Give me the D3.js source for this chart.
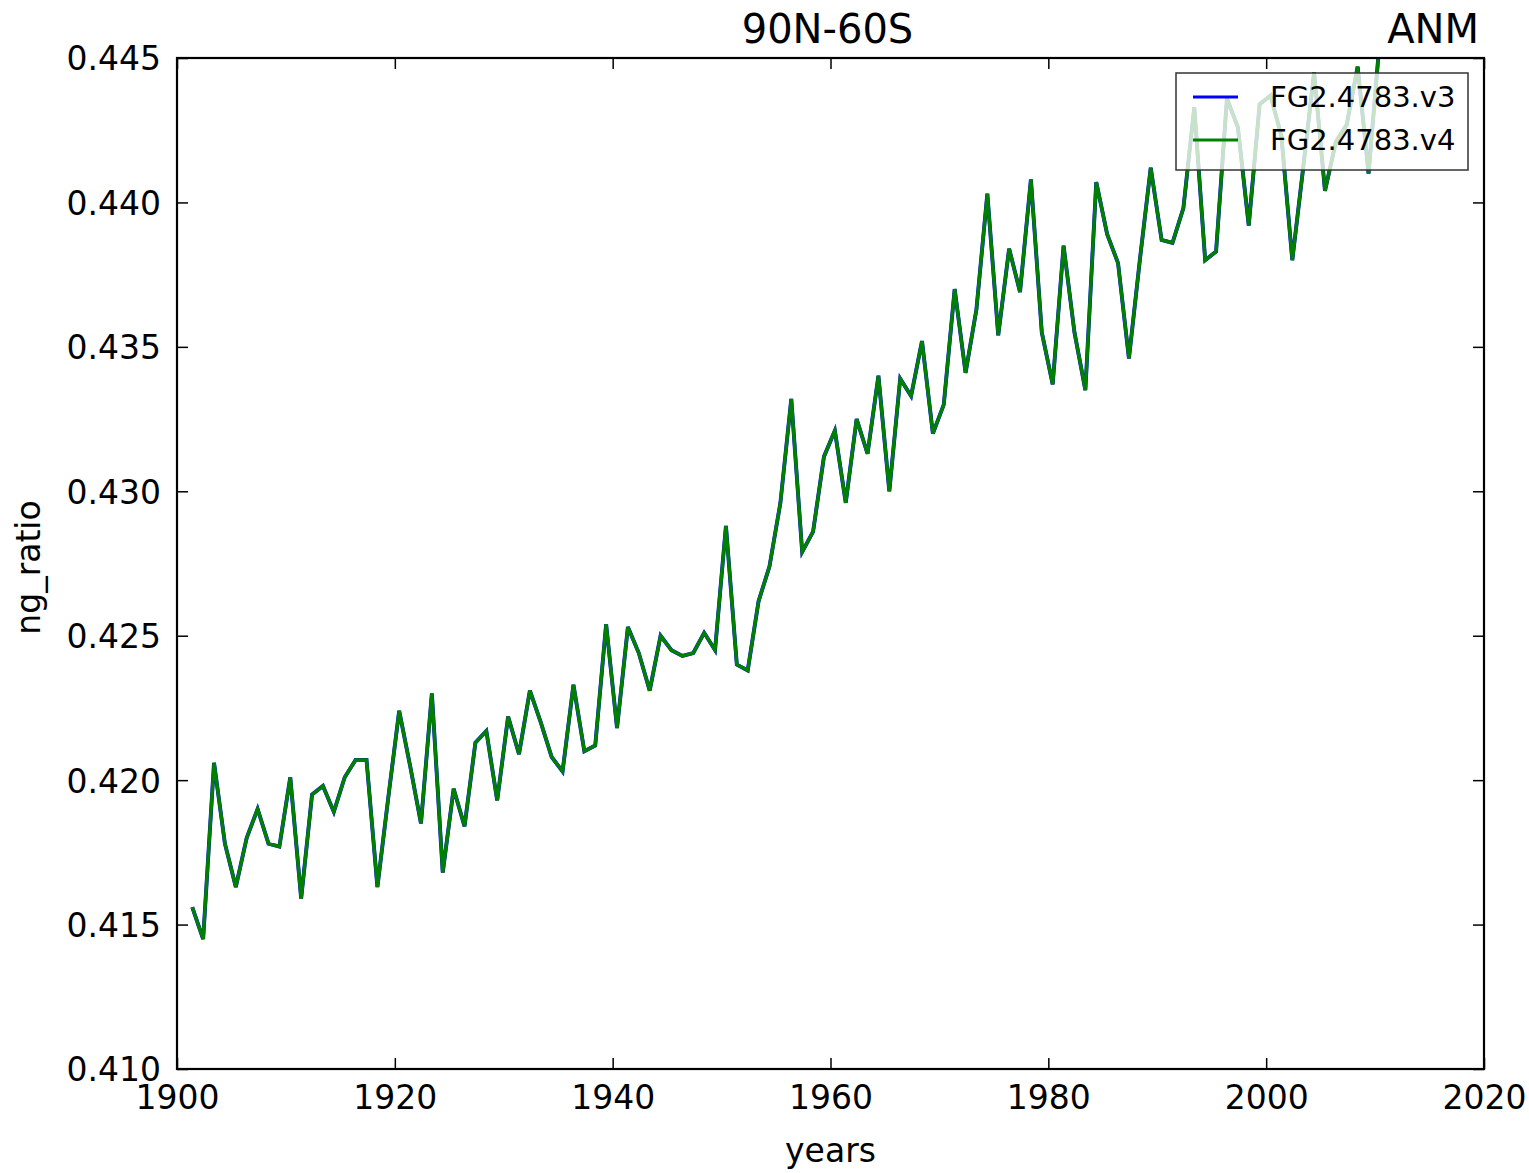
<!DOCTYPE html>
<html lang="en">
<head>
    <meta charset="UTF-8">
    <title>90N-60S ng_ratio</title>
    <script src="https://d3js.org/d3.v7.min.js"></script>
    <style>
        body {
            margin: 0;
            background: #fff;
            font-family: "DejaVu Sans", sans-serif;
        }
        text {
            fill: #000;
        }
    </style>
</head>
<body>
    <div id="chart"></div>

    <script>
        // annual values, 1901..2010
        const years = d3.range(1901, 2011);
        const ngRatio = [
            0.4156, 0.4145, 0.4206, 0.4178, 0.4163, 0.4180, 0.4190, 0.4178, 0.4177, 0.4201,
            0.4159, 0.4195, 0.4198, 0.4189, 0.4201, 0.4207, 0.4207, 0.4163, 0.4194, 0.4224,
            0.4205, 0.4185, 0.4230, 0.4168, 0.4197, 0.4184, 0.4213, 0.4217, 0.4193, 0.4222,
            0.4209, 0.4231, 0.4220, 0.4208, 0.4203, 0.4233, 0.4210, 0.4212, 0.4254, 0.4218,
            0.4253, 0.4244, 0.4231, 0.4250, 0.4245, 0.4243, 0.4244, 0.4251, 0.4245, 0.4288,
            0.4240, 0.4238, 0.4262, 0.4274, 0.4296, 0.4332, 0.4279, 0.4286, 0.4312, 0.4321,
            0.4296, 0.4325, 0.4313, 0.4340, 0.4300, 0.4339, 0.4333, 0.4352, 0.4320, 0.4330,
            0.4370, 0.4341, 0.4363, 0.4403, 0.4354, 0.4384, 0.4369, 0.4408, 0.4355, 0.4337,
            0.4385, 0.4355, 0.4335, 0.4407, 0.4389, 0.4379, 0.4346, 0.4380, 0.4412, 0.4387,
            0.4386, 0.4398, 0.4433, 0.4380, 0.4383, 0.4436, 0.4426, 0.4392, 0.4434, 0.4437,
            0.4423, 0.4380, 0.4412, 0.4445, 0.4404, 0.4421, 0.4427, 0.4447, 0.4410, 0.4455
        ];
        // v3 and v4 are identical here; v3 is drawn first and hidden under v4
        const series = [
            { name: "FG2.4783.v3", color: "#0000ff", width: 3.9, values: ngRatio },
            { name: "FG2.4783.v4", color: "#008000", width: 3.4, values: ngRatio }
        ];
        const xTicks = d3.range(1900, 2021, 20);
        const yTicks = d3.range(0.410, 0.4451, 0.005);
        const timeShift = 0.4; // samples sit a bit past the start of each year

        const W = 1529, H = 1173;
        const margin = { top: 58, right: 45, bottom: 104, left: 177 };
        const iw = W - margin.left - margin.right;
        const ih = H - margin.top - margin.bottom;

        const svg = d3.select("#chart")
            .append("svg")
            .attr("width", W)
            .attr("height", H);

        const x = d3.scaleLinear().domain([1900, 2020]).range([0, iw]);
        const y = d3.scaleLinear().domain([0.410, 0.445]).range([ih, 0]);

        const g = svg.append("g")
            .attr("transform", `translate(${margin.left},${margin.top})`);

        g.append("clipPath").attr("id", "clip")
            .append("rect").attr("width", iw).attr("height", ih);

        const line = d3.line()
            .x((d, i) => x(years[i] + timeShift))
            .y(d => y(d));

        const lines = g.append("g").attr("clip-path", "url(#clip)");
        series.forEach(s => {
            lines.append("path")
                .datum(s.values)
                .attr("d", line)
                .attr("fill", "none")
                .attr("stroke", s.color)
                .attr("stroke-width", s.width)
                .attr("stroke-linejoin", "miter");
        });

        // axes: inward ticks on all four sides, labels left and bottom
        const tickLen = 11;
        const fmt = d3.format(".3f");

        const axBottom = g.append("g")
            .attr("transform", `translate(0,${ih})`)
            .call(d3.axisBottom(x).tickValues(xTicks).tickFormat(d3.format("d"))
                .tickSizeInner(-tickLen).tickSizeOuter(0).tickPadding(tickLen + 6));
        const axTop = g.append("g")
            .call(d3.axisTop(x).tickValues(xTicks).tickFormat("")
                .tickSizeInner(-tickLen).tickSizeOuter(0));
        const axLeft = g.append("g")
            .call(d3.axisLeft(y).tickValues(yTicks).tickFormat(fmt)
                .tickSizeInner(-tickLen).tickSizeOuter(0).tickPadding(tickLen + 5));
        const axRight = g.append("g")
            .attr("transform", `translate(${iw},0)`)
            .call(d3.axisRight(y).tickValues(yTicks).tickFormat("")
                .tickSizeInner(-tickLen).tickSizeOuter(0));

        [axBottom, axTop, axLeft, axRight].forEach(a => {
            a.select(".domain").remove();
            a.selectAll(".tick line").attr("stroke", "#000").attr("stroke-width", 1.5);
            a.selectAll("text")
                .attr("font-family", "DejaVu Sans")
                .attr("font-size", 33)
                .attr("fill", "#111");
        });
        axBottom.selectAll("text").attr("dy", "0.71em");
        axLeft.selectAll("text").attr("dy", "0.36em");

        g.append("rect")
            .attr("width", iw)
            .attr("height", ih)
            .attr("fill", "none")
            .attr("stroke", "#000")
            .attr("stroke-width", 2.2);

        // titles and axis labels
        svg.append("text")
            .attr("x", margin.left + iw / 2 - 3)
            .attr("y", 43)
            .attr("text-anchor", "middle")
            .attr("font-size", 40)
            .text("90N-60S");

        svg.append("text")
            .attr("x", margin.left + iw - 5)
            .attr("y", 43)
            .attr("text-anchor", "end")
            .attr("font-size", 40)
            .text("ANM");

        svg.append("text")
            .attr("x", margin.left + iw / 2)
            .attr("y", 1162)
            .attr("text-anchor", "middle")
            .attr("font-size", 33)
            .text("years");

        svg.append("text")
            .attr("transform", `translate(40,${margin.top + ih / 2 + 4}) rotate(-90)`)
            .attr("text-anchor", "middle")
            .attr("font-size", 33)
            .text("ng_ratio");

        // legend, semi-transparent frame in the upper right
        const legend = svg.append("g").attr("transform", "translate(1176,73)");
        legend.append("rect")
            .attr("width", 292)
            .attr("height", 97)
            .attr("fill", "#fff")
            .attr("fill-opacity", 0.78)
            .attr("stroke", "#333")
            .attr("stroke-width", 1.5);

        series.forEach((s, i) => {
            const ly = 24 + i * 43;
            legend.append("line")
                .attr("x1", 17).attr("x2", 62)
                .attr("y1", ly).attr("y2", ly)
                .attr("stroke", s.color)
                .attr("stroke-width", 3);
            legend.append("text")
                .attr("x", 94)
                .attr("y", ly)
                .attr("dy", "0.36em")
                .attr("font-size", 29)
                .attr("fill", "#222")
                .text(s.name);
        });
    </script>
</body>
</html>
